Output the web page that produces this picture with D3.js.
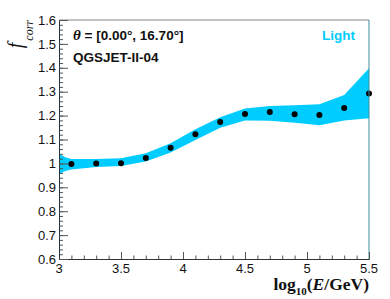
<!DOCTYPE html>
<html>
<head>
<meta charset="utf-8">
<script src="https://cdn.jsdelivr.net/npm/d3@7"></script>
<style>
  body { margin: 0; background: #fff; }
  text { font-family: "Liberation Sans", Arial, sans-serif; }
</style>
</head>
<body>
<div id="chart"></div>
<script>
// mean correction factor per energy bin
const energy = [3.1, 3.3, 3.5, 3.7, 3.9, 4.1, 4.3, 4.5, 4.7, 4.9, 5.1, 5.3, 5.5];
const fcorr = [0.997, 1.0, 1.001, 1.023, 1.066, 1.122, 1.173, 1.207, 1.215, 1.206, 1.203, 1.232, 1.292];

// uncertainty band (Light)
const bandE = [3.0, 3.05, 3.1, 3.3, 3.5, 3.7, 3.9, 4.1, 4.3, 4.5, 4.7, 4.9, 5.1, 5.3, 5.5];
const bandHi = [1.04, 1.026, 1.018, 1.018, 1.022, 1.042, 1.084, 1.143, 1.193, 1.23, 1.24, 1.243, 1.248, 1.286, 1.398];
const bandLo = [0.956, 0.968, 0.975, 0.985, 0.989, 1.008, 1.046, 1.098, 1.149, 1.18, 1.178, 1.17, 1.16, 1.179, 1.189];

const xTicks = [3, 3.5, 4, 4.5, 5, 5.5];
const yTicks = [0.6, 0.7, 0.8, 0.9, 1, 1.1, 1.2, 1.3, 1.4, 1.5, 1.6];

var width = 390;
var height = 299;
var margin = { top: 20, bottom: 40, left: 59, right: 21 };

var svg = d3.select('#chart')
  .append('svg')
  .attr('width', width)
  .attr('height', height);

const x = d3.scaleLinear()
  .domain([3, 5.5])
  .range([margin.left, width - margin.right]);

const y = d3.scaleLinear()
  .domain([0.6, 1.6])
  .range([height - margin.bottom, margin.top]);

const band = bandE.map((e, i) => ({e: e, hi: bandHi[i], lo: bandLo[i]}));

svg.append("path")
  .datum(band)
  .attr("fill", "#00ccff")
  .attr("d", d3.area()
    .x(d => x(d.e))
    .y0(d => y(d.lo))
    .y1(d => y(d.hi)));

svg.append("g")
  .selectAll("circle")
  .data(energy)
  .join("circle")
    .attr("cx", d => x(d))
    .attr("cy", (d, i) => y(fcorr[i]))
    .attr("r", 3)
    .attr("fill", "#000");

// frame: top and right
svg.append("line")
  .attr("x1", x(3)).attr("x2", x(5.5))
  .attr("y1", y(1.6)).attr("y2", y(1.6))
  .attr("stroke", "#888").attr("stroke-width", 1);
svg.append("line")
  .attr("x1", x(5.5)).attr("x2", x(5.5))
  .attr("y1", y(1.6)).attr("y2", y(0.6))
  .attr("stroke", "#3f8e9e").attr("stroke-width", 1);

function xAxis(g) {
  g.attr("transform", `translate(0,${y(0.6)})`);
  g.append("g")
    .call(d3.axisTop(x).tickValues(d3.range(30, 56).map(v => v / 10)).tickSize(3.5).tickFormat(""))
    .call(g => g.select(".domain").remove());
  g.append("g")
    .call(d3.axisTop(x).tickValues(xTicks).tickSize(7).tickFormat(""))
    .call(g => g.select(".domain").attr("stroke", "#333"));
  g.selectAll(".tick line").attr("stroke", "#555");
  g.append("g")
    .selectAll("text")
    .data(xTicks)
    .join("text")
      .attr("x", d => x(d))
      .attr("y", 14)
      .attr("text-anchor", "middle")
      .attr("font-size", "13px")
      .attr("fill", "#111")
      .text(d => d3.format("")(d));
}

function yAxis(g) {
  g.attr("transform", `translate(${x(3)},0)`);
  g.append("g")
    .call(d3.axisRight(y).tickValues(d3.range(30, 81).map(v => v / 50)).tickSize(4).tickFormat(""))
    .call(g => g.select(".domain").remove());
  g.append("g")
    .call(d3.axisRight(y).tickValues(yTicks).tickSize(9).tickFormat(""))
    .call(g => g.select(".domain").attr("stroke", "#1c3a40"));
  g.selectAll(".tick line").attr("stroke", "#555");
  g.append("g")
    .selectAll("text")
    .data(yTicks)
    .join("text")
      .attr("x", -3)
      .attr("y", d => y(d))
      .attr("dy", "0.36em")
      .attr("text-anchor", "end")
      .attr("font-size", "13px")
      .attr("fill", "#111")
      .text(d => d3.format("")(d));
}

svg.append("g").call(xAxis);
svg.append("g").call(yAxis);

// axis titles
const xl = svg.append("text")
  .attr("x", x(5.5))
  .attr("y", 290)
  .attr("text-anchor", "end")
  .style("font-family", "'Liberation Serif', 'Times New Roman', serif")
  .attr("font-weight", "bold")
  .attr("font-size", "17.5px")
  .attr("fill", "#111");
xl.append("tspan").text("log");
xl.append("tspan").attr("font-size", "11px").attr("dy", 5).text("10");
xl.append("tspan").attr("dy", -5).text("(");
xl.append("tspan").attr("font-style", "italic").text("E");
xl.append("tspan").text("/GeV)");

const yl = svg.append("text")
  .attr("transform", "translate(22,20) rotate(-90)")
  .attr("text-anchor", "end")
  .style("font-family", "'Liberation Serif', 'Times New Roman', serif")
  .attr("font-style", "italic")
  .attr("fill", "#111");
yl.append("tspan").attr("font-size", "20px").text("f");
yl.append("tspan").attr("font-size", "12px").attr("dx", 2).attr("dy", 11).text("corr");

// labels in the plot
const th = svg.append("text")
  .attr("x", 73)
  .attr("y", 40)
  .attr("font-weight", "bold")
  .attr("font-size", "13.5px")
  .attr("fill", "#111");
th.append("tspan").attr("font-style", "italic").style("font-family", "'Liberation Serif', serif").attr("font-size", "15px").text("θ");
th.append("tspan").text(" = [0.00°, 16.70°]");

svg.append("text")
  .attr("x", 73)
  .attr("y", 62)
  .attr("font-weight", "bold")
  .attr("font-size", "13.5px")
  .attr("fill", "#111")
  .text("QGSJET-II-04");

svg.append("text")
  .attr("x", 355)
  .attr("y", 40)
  .attr("text-anchor", "end")
  .attr("font-weight", "bold")
  .attr("font-size", "13.5px")
  .attr("fill", "#00ccff")
  .text("Light");
</script>
</body>
</html>
